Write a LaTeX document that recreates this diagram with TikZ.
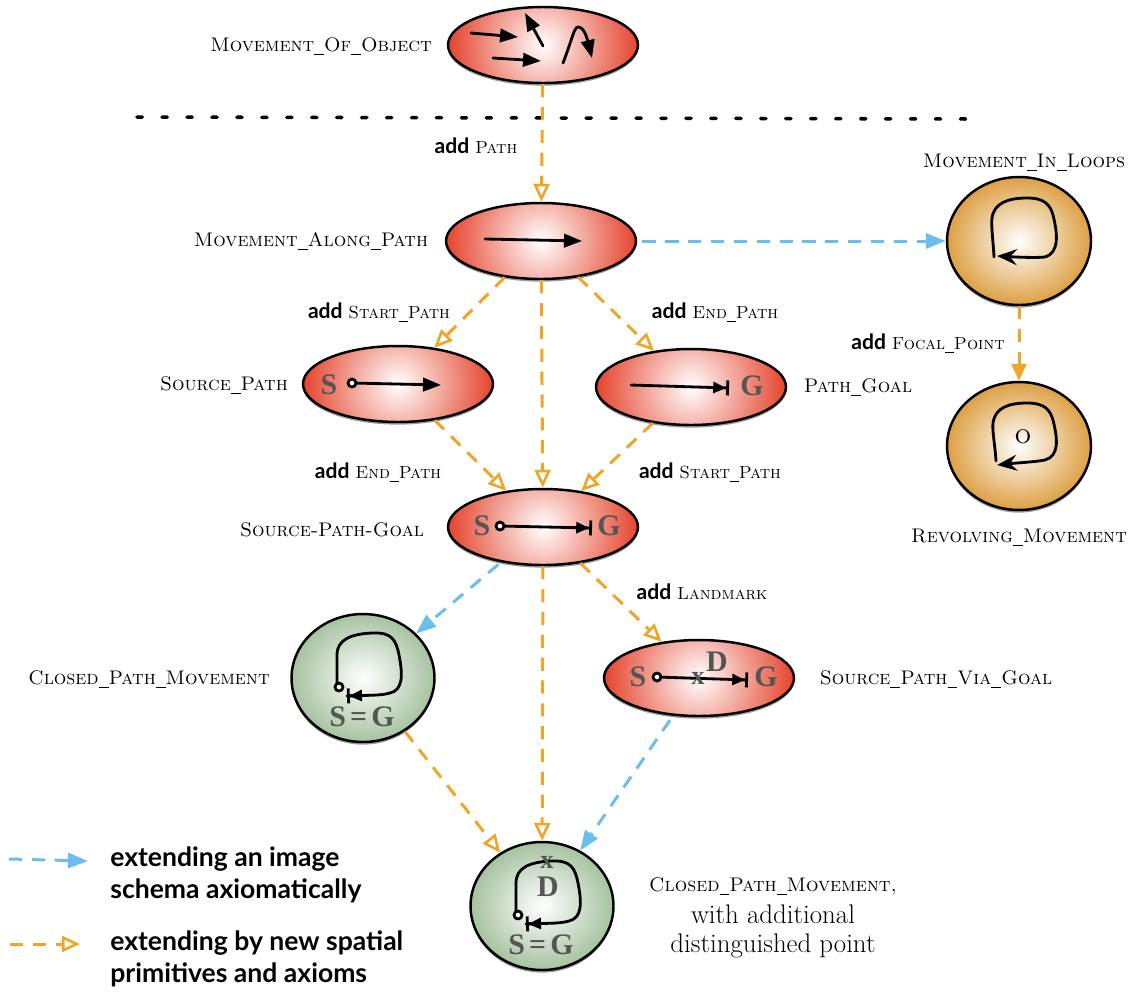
\documentclass[tikz,border=0pt]{standalone}
\usepackage{fontspec}
\usepackage{tikz}
\usetikzlibrary{ arrows.meta, % For the open and barred tips
                 shapes.geometric, % For ellipse
                 shadows,     % For the shadow under the schemas
               }
\newfontfamily\legendfont{Lato}
\newfontfamily\letterfont{Liberation Serif}
\definecolor{schemared}{HTML}{E5432C}
\definecolor{schemagreen}{HTML}{A6C2A0}
\definecolor{schemaorange}{HTML}{DDA044}
\definecolor{lineorange}{HTML}{EDA62A}
\definecolor{lineblue}{HTML}{6BBDEB}
\definecolor{lettergray}{HTML}{555555}
\newcommand{\us}{\rule[-0.3ex]{0.5em}{0.35pt}}
\newcommand{\namefont}{\fontsize{11.2}{16.4}\selectfont\scshape}
\newcommand{\addlabel}[1]{{\fontsize{12}{16}\legendfont\bfseries add} {\fontsize{10}{16}\selectfont\scshape #1}}
\newcommand{\closedloop}{%
  \draw[glyph] (337,683) -- (337,655) .. controls (337,640) and (350,634) .. (372,633)
    .. controls (392,632) and (396,640) .. (399,655) .. controls (403,675) and (403,690) .. (390,693)
    .. controls (380,696) and (365,695) .. (347,696);
  \draw[glyph, -{Bar[width=0.3cm]}] (360,695.5) -- (347,696);
  \draw[glyph, -{Triangle[length=0.26cm,width=0.22cm]}] (362,695.5) -- (349,696);
  \draw[glyph, fill=white] (339,687) circle (4);
}
\tikzset{
  schema/.style={ellipse, draw=black, line width=1.4pt, inner sep=0pt,
    drop shadow={shadow xshift=0pt, shadow yshift=-1.5pt, fill=black, opacity=0.4}},
  red_schema/.style={schema, minimum width=3.8cm, minimum height=1.52cm, fill=white,
    path picture={\shade[inner color=white, outer color=schemared]
      (path picture bounding box.center) circle (1.9cm);}},
  green_schema/.style={schema, minimum width=2.86cm, minimum height=2.56cm,
    inner color=white, outer color=schemagreen},
  orange_schema/.style={schema, minimum width=2.88cm, minimum height=2.56cm,
    inner color=white, outer color=schemaorange},
  name_label/.style={font=\namefont, inner sep=0pt},
  add_label/.style={inner sep=0pt},
  legend_label/.style={font=\fontsize{15.1}{18.1}\legendfont\bfseries, align=left, anchor=west, inner sep=0pt},
  letter/.style={font=\fontsize{17}{17}\letterfont\bfseries, text=lettergray, inner sep=0pt},
  cross/.style={font=\fontsize{15}{15}\letterfont\bfseries, text=lettergray, inner sep=0pt},
  glyph/.style={line width=1.6pt, line cap=round, line join=round},
  glyph_arrow/.style={glyph, -{Triangle[length=0.36cm,width=0.27cm]}},
  glyph_goal/.style={glyph, -{Triangle[length=0.26cm,width=0.22cm]Bar[width=0.3cm]}},
  glyph_loop/.style={glyph, -{Stealth[length=0.4cm,width=0.32cm,inset=0.14cm]}},
  extend_axiom/.style={line width=1.7pt, lineblue, dash pattern=on 7.5pt off 5.5pt,
    -{Triangle[length=0.4cm,width=0.3cm,fill=lineblue]}},
  extend_primitive/.style={line width=1.7pt, lineorange, dash pattern=on 7.5pt off 5.5pt,
    -{Triangle[open,length=0.36cm,width=0.32cm,fill=white,line width=1.5pt]}},
  extend_filled/.style={line width=1.7pt, lineorange, dash pattern=on 7.5pt off 5.5pt,
    -{Triangle[length=0.34cm,width=0.3cm,fill=lineorange]}},
}
\begin{document}
\begin{tikzpicture}[x=0.02cm, y=-0.02cm]
  \useasboundingbox (0,0) rectangle (1131,991);

  % schemas
  \node[red_schema] (object) at (543,45) {};
  \node[red_schema] (along) at (541,241) {};
  \node[red_schema] (source) at (398,384) {};
  \node[red_schema] (goal) at (691,387) {};
  \node[red_schema] (spg) at (543,527) {};
  \node[red_schema] (via) at (699,678) {};
  \node[green_schema] (closed) at (363,678) {};
  \node[green_schema] (closed_d) at (542,906) {};
  \node[orange_schema] (loops) at (1019,241) {};
  \node[orange_schema] (revolving) at (1019,446) {};

  % dotted line
  \coordinate (dots_l) at (137,117);
  \coordinate (dots_r) at (970,119);
  \draw[line width=2pt, line cap=round, dash pattern=on 3pt off 11.2pt] (dots_l) -- (dots_r);

  % connectors
  \draw[extend_primitive] (object) -- (along);
  \draw[extend_primitive] (along) -- (source);
  \draw[extend_primitive] (along) -- (goal);
  \draw[extend_primitive] (along) -- (spg);
  \draw[extend_primitive] (source) -- (spg);
  \draw[extend_primitive] (goal) -- (spg);
  \draw[extend_primitive] (spg) -- (via);
  \draw[extend_primitive] (spg) -- (closed_d);
  \draw[extend_primitive] (closed) -- (closed_d);
  \draw[extend_filled] (loops) -- (revolving);
  \draw[extend_axiom, shorten <=3pt] (along) -- (loops);
  \draw[extend_axiom, shorten <=2pt] (spg) -- (closed);
  \draw[extend_axiom, shorten <=3pt] (via) -- (closed_d);

  % what is inside the schemas
  \draw[glyph_arrow] (471,33) -- (518,37);
  \draw[glyph_arrow] (543,46) -- (525,13);
  \draw[glyph_arrow] (493,58) -- (541,61);
  \draw[glyph_arrow] (563,63) .. controls (572,40) and (574,27) .. (578,27) .. controls (584,27) and (587,38) .. (592,58);
  \draw[glyph_arrow] (485,239) -- (582,241);

  \node[letter] (s_source) at (329,385) {S};
  \draw[glyph_arrow] (352,383) -- (441,385);
  \draw[glyph, fill=white] (352,383) circle (4);

  \draw[glyph_goal] (631,385) -- (729,388);
  \node[letter] (g_goal) at (752,386) {G};

  \node[letter] (s_spg) at (482,526) {S};
  \draw[glyph_goal] (500,526) -- (592,528);
  \draw[glyph, fill=white] (500,526) circle (4);
  \node[letter] (g_spg) at (609,526) {G};

  \node[letter] (s_via) at (638,677) {S};
  \draw[glyph_goal] (657,677) -- (748,680);
  \draw[glyph, fill=white] (657,677) circle (4);
  \node[cross] (x_via) at (698,678) {x};
  \node[letter] (d_via) at (717,662) {D};
  \node[letter] (g_via) at (766,677) {G};

  \closedloop
  \node[letter] (sg_closed) at (362,717) {S\hspace{2.4pt}=\hspace{2.4pt}G};

  \begin{scope}[shift={(179,228)}]
    \closedloop
  \end{scope}
  \node[cross] (x_closed) at (547,862) {x};
  \node[letter] (d_closed) at (548,887) {D};
  \node[letter] (sg_closed_d) at (541,945) {S\hspace{2.4pt}=\hspace{2.4pt}G};

  \draw[glyph_loop] (994,257) .. controls (993,240) and (991,225) .. (992,218) .. controls (994,203) and (1008,198) .. (1027,198)
    .. controls (1045,198) and (1050,205) .. (1053,215) .. controls (1058,235) and (1059,253) .. (1045,257) .. controls (1035,258) and (1015,257) .. (997,256);
  \draw[glyph_loop] (996,461) .. controls (995,445) and (992,430) .. (993,423) .. controls (995,408) and (1008,403) .. (1027,403)
    .. controls (1045,403) and (1050,410) .. (1053,420) .. controls (1058,440) and (1059,456) .. (1045,460) .. controls (1035,462) and (1015,463) .. (997,465);
  \node[font=\fontsize{15}{15}\selectfont\scshape, inner sep=0pt] (focal) at (1023,437) {o};

  % names
  \node[name_label] (object_name) at (321,46) {Movement\us Of\us Object};
  \node[name_label] (along_name) at (311,241) {Movement\us Along\us Path};
  \node[name_label] (source_name) at (224,385) {Source\us Path};
  \node[name_label] (goal_name) at (858,387) {Path\us Goal};
  \node[name_label] (spg_name) at (332,530) {Source-Path-Goal};
  \node[name_label] (closed_name) at (149,679) {Closed\us Path\us Movement};
  \node[name_label] (via_name) at (936,679) {Source\us Path\us Via\us Goal};
  \node[name_label] (loops_name) at (1024,162) {Movement\us In\us Loops};
  \node[name_label] (revolving_name) at (1019,537) {Revolving\us Movement};
  \node[font=\fontsize{15.3}{16.4}\selectfont, align=center, inner sep=0pt] (closed_d_name) at (773,918) {{\namefont Closed\us Path\us Movement,}\\[1.7pt]with additional\\distinguished point};

  % what was added
  \node[add_label] (add_path) at (476,146) {\addlabel{Path}};
  \node[add_label] (add_start_l) at (379,312) {\addlabel{Start\us Path}};
  \node[add_label] (add_end_r) at (715,312) {\addlabel{End\us Path}};
  \node[add_label] (add_end_l) at (378,472) {\addlabel{End\us Path}};
  \node[add_label] (add_start_r) at (710,472) {\addlabel{Start\us Path}};
  \node[add_label] (add_landmark) at (702,592) {\addlabel{Landmark}};
  \node[add_label] (add_focal) at (928,343) {\addlabel{Focal\us Point}};

  % legend
  \coordinate (blue_l) at (9,859);
  \coordinate (blue_r) at (88,861);
  \coordinate (orange_l) at (10,944);
  \coordinate (orange_r) at (80,944);
  \draw[extend_axiom] (blue_l) -- (blue_r);
  \draw[extend_primitive] (orange_l) -- (orange_r);
  \node[legend_label] (blue_text) at (110,875) {extending an image\\schema axiomatically};
  \node[legend_label] (orange_text) at (110,959) {extending by new spatial\\primitives and axioms};
\end{tikzpicture}
\end{document}
